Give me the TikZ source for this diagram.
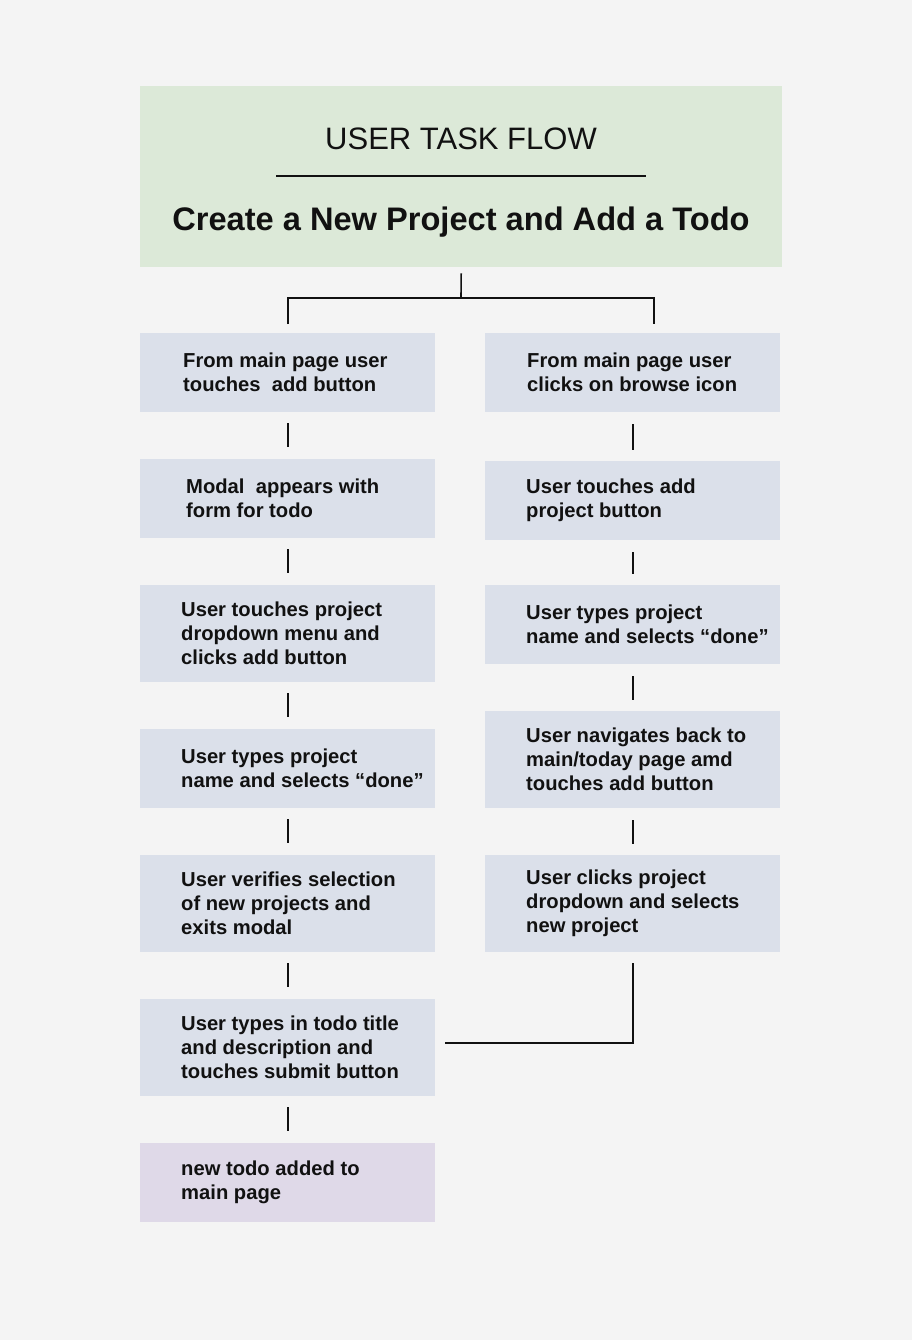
\documentclass[tikz,border=0pt]{standalone}
\usepackage{fontspec}
\setmainfont{Liberation Sans}
\definecolor{pagebg}{HTML}{F4F4F4}
\definecolor{headfill}{HTML}{DCE9D8}
\definecolor{stepfill}{HTML}{DBE0EA}
\definecolor{endfill}{HTML}{DFD9E8}
\definecolor{ink}{HTML}{111111}
\begin{document}
\begin{tikzpicture}[x=1pt,y=-1pt,
  stepbox/.style={fill=stepfill, minimum width=295pt, minimum height=#1,
    anchor=north west, inner sep=0pt},
  endbox/.style={stepbox=#1, fill=endfill},
  steptext/.style={anchor=west, align=left, inner sep=0pt, text=ink,
    font=\fontsize{20.2pt}{24pt}\selectfont\bfseries},
  link/.style={draw=ink, line width=1.6pt}]

% page background
\fill[pagebg] (0,0) rectangle (912,1340);
\useasboundingbox (0,0) rectangle (912,1340);

% header
\node[fill=headfill, minimum width=642pt, minimum height=181pt, anchor=north west,
  inner sep=0pt] (hdr) at (140,86) {};
\node[text=ink, font=\fontsize{31pt}{36pt}\selectfont, inner sep=0pt] (title) at (461,138.5) {USER TASK FLOW};
\coordinate (ruleA) at (276,176);
\coordinate (ruleB) at (646,176);
\draw[draw=ink, line width=1.2pt] (ruleA) -- (ruleB);
\node[text=ink, font=\fontsize{32.6pt}{38pt}\selectfont\bfseries, inner sep=0pt] (subtitle) at (461,222)
  {Create a New Project and Add a Todo};

% left column
\node[stepbox=79pt] (l1) at (140,333) {};
\node[steptext] (l1t) at ([xshift=43pt]l1.west) {From main page user\\touches\ \ add button};
\node[stepbox=79pt] (l2) at (140,459) {};
\node[steptext] (l2t) at ([xshift=46pt]l2.west) {Modal\ \ appears with\\form for todo};
\node[stepbox=97pt] (l3) at (140,585) {};
\node[steptext] (l3t) at ([xshift=41pt]l3.west) {User touches project\\dropdown menu and\\clicks add button};
\node[stepbox=79pt] (l4) at (140,729) {};
\node[steptext] (l4t) at ([xshift=41pt]l4.west) {User types project\\name and selects “done”};
\node[stepbox=97pt] (l5) at (140,855) {};
\node[steptext] (l5t) at ([xshift=41pt]l5.west) {User verifies selection\\of new projects and\\exits modal};
\node[stepbox=97pt] (l6) at (140,999) {};
\node[steptext] (l6t) at ([xshift=41pt]l6.west) {User types in todo title\\and description and\\touches submit button};
\node[endbox=79pt] (l7) at (140,1143) {};
\node[steptext] (l7t) at ([xshift=41pt]l7.west) {new todo added to\\main page};

% right column
\node[stepbox=79pt] (r1) at (485,333) {};
\node[steptext] (r1t) at ([xshift=42pt]r1.west) {From main page user\\clicks on browse icon};
\node[stepbox=79pt] (r2) at (485,461) {};
\node[steptext] (r2t) at ([xshift=41pt]r2.west) {User touches add\\project button};
\node[stepbox=79pt] (r3) at (485,585) {};
\node[steptext] (r3t) at ([xshift=41pt]r3.west) {User types project\\name and selects “done”};
\node[stepbox=97pt] (r4) at (485,711) {};
\node[steptext] (r4t) at ([xshift=41pt]r4.west) {User navigates back to\\main/today page amd\\touches add button};
\node[stepbox=97pt] (r5) at (485,855) {};
\node[steptext] (r5t) at ([xshift=41pt]r5.west) {User clicks project\\dropdown and selects\\new project};

% split from header into both columns
\coordinate (split) at (461,298);
\draw[link] ([yshift=-6pt]hdr.south) -- (split);
\draw[link] ([yshift=9pt]l1.north) |- (split) -| ([xshift=21.5pt,yshift=9pt]r1.north);

% left column connectors
\foreach \a/\b in {l1/l2,l2/l3,l3/l4,l4/l5,l5/l6,l6/l7}
  \draw[link] ([yshift=-11pt]\a.south) -- ([yshift=12pt]\b.north);

% right column connectors
\foreach \a/\b in {r1/r2,r2/r3,r3/r4,r4/r5}
  \draw[link] ([yshift=-12pt]\a.south) -- ([yshift=11pt]\b.north);

% right branch joins the todo step
\draw[link] ([yshift=-11pt]r5.south) |- ([xshift=10pt,yshift=4.5pt]l6.east);
\end{tikzpicture}
\end{document}
